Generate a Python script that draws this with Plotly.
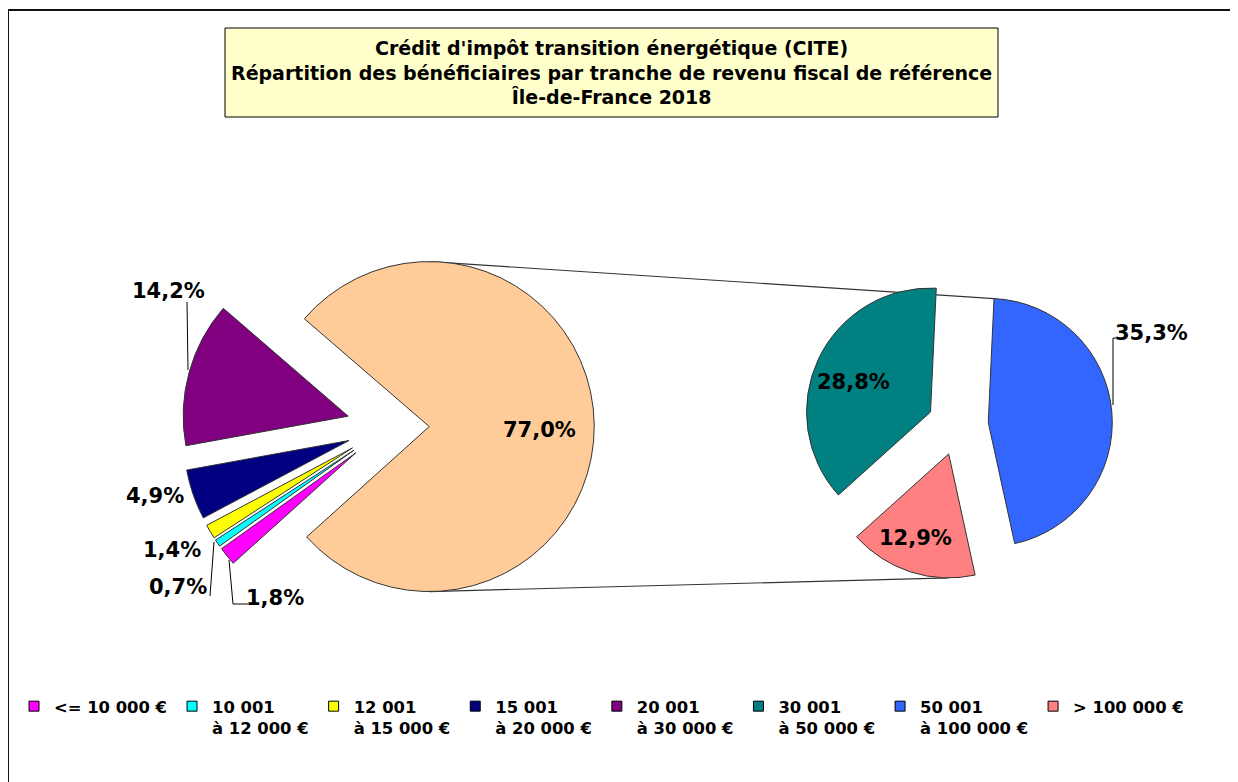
import math
import plotly.graph_objects as go

# page body has an 8px margin: the figure is drawn from (8, 8) in the window
OFF = 8
W, H = 1238 - OFF, 782 - OFF

# ---------------- data ----------------
main_labels = ["<= 10 000 €", "10 001<br>à 12 000 €", "12 001<br>à 15 000 €",
               "15 001<br>à 20 000 €", "20 001<br>à 30 000 €", "30 001 € et plus"]
main_values = [1.8, 0.7, 1.4, 4.9, 14.2, 77.0]
sub_labels = ["30 001<br>à 50 000 €", "50 001<br>à 100 000 €", "> 100 000 €"]
sub_values = [28.8, 35.3, 12.9]
title_lines = ["Crédit d'impôt transition énergétique (CITE)",
               "Répartition des bénéficiaires par tranche de revenu fiscal de référence",
               "Île-de-France 2018"]

# ---------------- styles / layout constants (window pixels) ----------------
main_colors = ["#FF00FF", "#00FFFF", "#FFFF00", "#000080", "#800080", "#FFCC99"]
sub_colors = ["#008080", "#3366FF", "#FF8080"]
FONT = "DejaVu Sans"
ROT = 228                      # start angle, clockwise from 12 o'clock
P1 = dict(c=(388, 427), r=165, pull=0.25)
P2 = dict(c=(958, 425), r=124, pull=0.245)

main_label_pos = [(275, 598), (178, 587), (172, 550), (155, 496), (168, 291), (539, 430)]
sub_label_pos = [(854, 382), (1151, 333), (915, 538)]
leaders = [[(187, 302), (188, 370)],
           [(214, 542), (210, 596)],
           [(229, 560), (233, 604), (248, 604)],
           [(1113, 405), (1113, 338), (1117, 338)]]


def px(x):
    return (x - OFF) / W


def py(y):
    return 1 - (y - OFF) / H


def fmt(v):
    return f"{v:.1f}".replace(".", ",") + "%"


def domain(p):
    h = p["r"] * (1 + p["pull"])
    cx, cy = p["c"]
    return dict(x=[px(cx - h), px(cx + h)], y=[py(cy + h), py(cy - h)])


def slice_geom(values, idx, p):
    """angles (math deg) and pulled centre of slice idx, clockwise from ROT"""
    tot = sum(values)
    start = 90 - ROT - 360 * sum(values[:idx]) / tot
    end = start - 360 * values[idx] / tot
    mid = math.radians((start + end) / 2)
    d = p["r"] * p["pull"]
    cx = p["c"][0] + d * math.cos(mid)
    cy = p["c"][1] - d * math.sin(mid)
    return start, end, cx, cy


fig = go.Figure()

fig.add_trace(go.Pie(
    labels=main_labels, values=main_values, sort=False, direction="clockwise",
    rotation=ROT, pull=[P1["pull"]] * len(main_values),
    marker=dict(colors=main_colors, line=dict(color="#333333", width=1)),
    textinfo="none", showlegend=False, domain=domain(P1),
    hovertemplate="%{label}: %{value:.1f}%<extra></extra>"))

fig.add_trace(go.Pie(
    labels=sub_labels, values=sub_values, sort=False, direction="clockwise",
    rotation=ROT, pull=[P2["pull"]] * len(sub_values),
    marker=dict(colors=sub_colors, line=dict(color="#333333", width=1)),
    textinfo="none", showlegend=False, domain=domain(P2),
    hovertemplate="%{label}: %{value:.1f}%<extra></extra>"))

# legend entries (the aggregated slice is not listed in the legend)
for lab, col in zip(main_labels[:5] + sub_labels, main_colors[:5] + sub_colors):
    fig.add_trace(go.Scatter(
        x=[None], y=[None], mode="markers", name=lab, hoverinfo="skip",
        marker=dict(symbol="square", size=10, color=col,
                    line=dict(color="#000000", width=1))))

shapes = []
# chart border (top + left)
shapes.append(dict(type="line", xref="paper", yref="paper", x0=px(8), y0=py(10),
                   x1=px(1245), y1=py(10), line=dict(color="#111111", width=2)))
shapes.append(dict(type="line", xref="paper", yref="paper", x0=px(8), y0=py(10),
                   x1=px(8), y1=py(790), line=dict(color="#111111", width=2)))
# title box
shapes.append(dict(type="rect", xref="paper", yref="paper", x0=px(225), y0=py(28),
                   x1=px(998), y1=py(117), fillcolor="#FFFFCC",
                   line=dict(color="#000000", width=1)))

# connector lines between the aggregated slice and the second pie
s0, e0, ocx, ocy = slice_geom(main_values, len(main_values) - 1, P1)
top_start = (ocx, ocy - P1["r"])
bot_start = (ocx, ocy + P1["r"])
s1, e1, bcx, bcy = slice_geom(sub_values, 1, P2)
top_end = (bcx + P2["r"] * math.cos(math.radians(s1)),
           bcy - P2["r"] * math.sin(math.radians(s1)))
s2, e2, pcx, pcy = slice_geom(sub_values, 2, P2)
bot_end = (pcx, pcy + P2["r"])
for a, b in [(top_start, top_end), (bot_start, bot_end)]:
    shapes.append(dict(type="line", xref="paper", yref="paper", layer="below",
                       x0=px(a[0]), y0=py(a[1]), x1=px(b[0]), y1=py(b[1]),
                       line=dict(color="#333333", width=1.2)))

# leader lines
for pts in leaders:
    path = "M " + " L ".join(f"{px(x)},{py(y)}" for x, y in pts)
    shapes.append(dict(type="path", xref="paper", yref="paper", path=path,
                       line=dict(color="#000000", width=1)))

annotations = [dict(
    text="<br>".join(title_lines), xref="paper", yref="paper", x=px(611.5), y=py(72.5),
    xanchor="center", yanchor="middle", showarrow=False, align="center",
    font=dict(family=FONT, size=19, color="#000000", weight="bold"))]

for v, (x, y) in zip(main_values + sub_values, main_label_pos + sub_label_pos):
    annotations.append(dict(
        text=fmt(v), xref="paper", yref="paper", x=px(x), y=py(y),
        xanchor="center", yanchor="middle", showarrow=False,
        font=dict(family=FONT, size=21, color="#000000", weight="bold")))

fig.update_layout(
    width=W, height=H, margin=dict(l=0, r=0, t=0, b=0),
    paper_bgcolor="white", plot_bgcolor="white",
    xaxis=dict(visible=False), yaxis=dict(visible=False),
    shapes=shapes, annotations=annotations,
    legend=dict(orientation="h", x=px(14), xanchor="left", y=py(689), yanchor="top",
                valign="top", traceorder="normal", itemwidth=30,
                font=dict(family=FONT, size=16.4, color="#000000", weight="bold"),
                bgcolor="rgba(0,0,0,0)"),
)

fig.write_html("out.html")
